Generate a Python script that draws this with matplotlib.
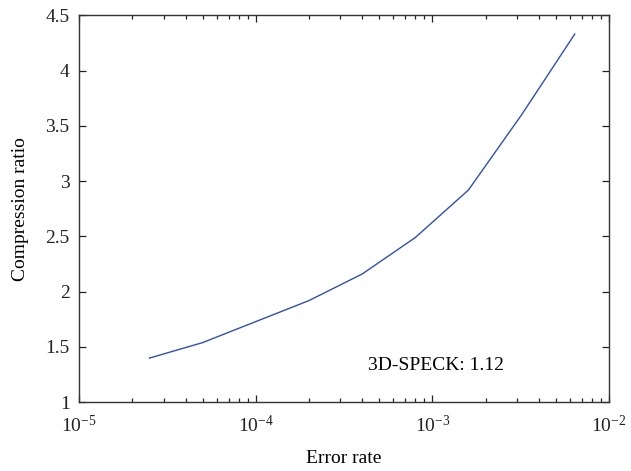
import matplotlib
matplotlib.use("Agg")
import matplotlib.pyplot as plt
from matplotlib.ticker import LogLocator, FixedLocator

plt.rcParams["font.family"] = ["Liberation Serif", "DejaVu Serif"]
plt.rcParams["mathtext.fontset"] = "stix"

# error rate vs compression ratio
error_rate = [2.5e-5, 5e-5, 1e-4, 2e-4, 4e-4, 8e-4, 1.6e-3, 3.2e-3, 6.4e-3]
compression_ratio = [1.40, 1.54, 1.73, 1.92, 2.16, 2.49, 2.92, 3.60, 4.33]
y_ticks = [1, 1.5, 2, 2.5, 3, 3.5, 4, 4.5]
y_tick_labels = ["1", "1.5", "2", "2.5", "3", "3.5", "4", "4.5"]
note = "3D-SPECK: 1.12"

fig = plt.figure(figsize=(6.31, 4.71), dpi=100)
ax = fig.add_axes([0.1257, 0.1459, 0.8394, 0.8217])

ax.plot(error_rate, compression_ratio, color="#3050b0", lw=1.0)

ax.set_xscale("log")
ax.set_xlim(1e-5, 1e-2)
ax.set_ylim(1, 4.5)
ax.yaxis.set_major_locator(FixedLocator(y_ticks))
ax.set_yticklabels(y_tick_labels)
ax.xaxis.set_major_locator(LogLocator(base=10, numticks=10))
ax.xaxis.set_minor_locator(LogLocator(base=10, subs=range(2, 10), numticks=20))

ax.tick_params(which="both", direction="in", top=True, right=True,
               labelsize=14, colors="#222222", width=0.9)
ax.tick_params(which="major", length=5)
ax.tick_params(which="minor", length=3)
ax.tick_params(axis="x", which="major", pad=9)
ax.tick_params(axis="y", which="major", pad=7)
for sp in ax.spines.values():
    sp.set_linewidth(1.0)
    sp.set_color("#333333")

ax.set_xlabel("Error rate", fontsize=14, labelpad=10)
ax.set_ylabel("Compression ratio", fontsize=14, labelpad=12)

ax.text(4.3e-4, 1.33, note, fontsize=14, ha="left", va="center")

fig.savefig("out.png", dpi=100)
